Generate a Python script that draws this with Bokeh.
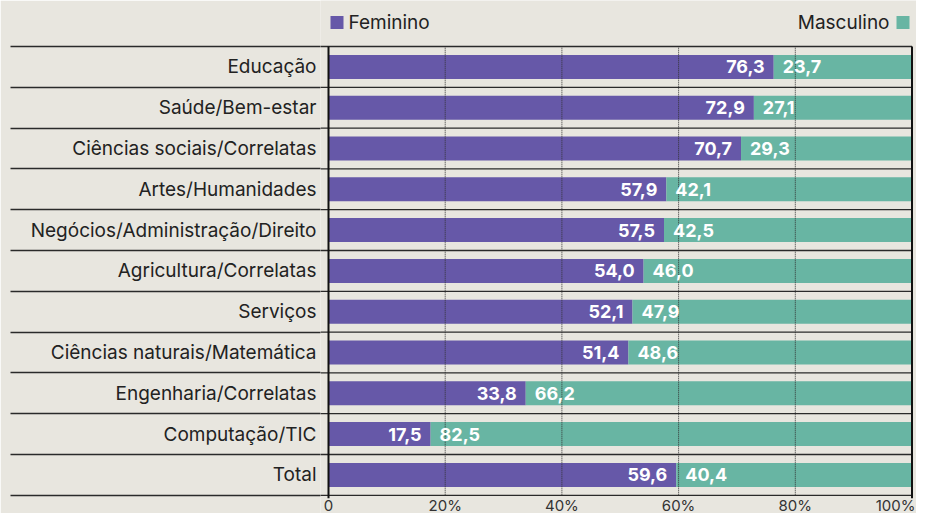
from bokeh.plotting import figure
from bokeh.models import ColumnDataSource, FixedTicker, Range1d
from bokeh.core.properties import value
from bokeh.embed import file_html
from bokeh.resources import INLINE

# ---------------- data ----------------
categories = [
    "Educação",
    "Saúde/Bem-estar",
    "Ciências sociais/Correlatas",
    "Artes/Humanidades",
    "Negócios/Administração/Direito",
    "Agricultura/Correlatas",
    "Serviços",
    "Ciências naturais/Matemática",
    "Engenharia/Correlatas",
    "Computação/TIC",
    "Total",
]
feminino = [76.3, 72.9, 70.7, 57.9, 57.5, 54.0, 52.1, 51.4, 33.8, 17.5, 59.6]
masculino = [23.7, 27.1, 29.3, 42.1, 42.5, 46.0, 47.9, 48.6, 66.2, 82.5, 40.4]
series_names = ["Feminino", "Masculino"]
x_ticks = [0, 20, 40, 60, 80, 100]
x_tick_labels = ["0", "20%", "40%", "60%", "80%", "100%"]

# ---------------- style / layout ----------------
PURPLE = "#6658a8"
TEAL = "#68b5a3"
BG = "#e8e6df"
INK = "#222222"
RULE = "#2a2a2a"
FONT = "Inter"

W, H = 916, 513
FRAME_LEFT = 320          # figure px where the frame starts
ZERO_PX = 328             # figure px of x = 0
PX_PER_UNIT = 583.5 / 100
ROW_PX = 40.8
TOP_RULE = 46             # figure px of the top rule
RULE_START = 10           # figure px where the row rules start on the left
LABEL_GAP = 12            # gap between category labels and the zero line

n = len(categories)
ys = [n - 1 - i for i in range(n)]
boundaries = [k - 0.5 for k in range(n + 1)]


def px_x(px):
    return px / PX_PER_UNIT


def px_y(px):
    return px / ROW_PX


y_top = (n - 0.5) + px_y(TOP_RULE)
y_bot = y_top - px_y(H)
x_start = -px_x(ZERO_PX - FRAME_LEFT)
x_end = px_x(W - ZERO_PX)


def y_at(fig_px):
    return y_top - px_y(fig_px)


p = figure(
    width=W, height=H,
    x_range=Range1d(x_start, x_end), y_range=Range1d(y_bot, y_top),
    output_backend="svg", toolbar_location=None,
    x_axis_location=None,
    min_border_left=FRAME_LEFT, min_border_right=0,
    min_border_top=0, min_border_bottom=0,
    background_fill_color=BG, border_fill_color=BG,
    outline_line_color=None,
)
p.xgrid.visible = False
p.ygrid.visible = False

fmt = lambda v: f"{v:.1f}".replace(".", ",")
src = ColumnDataSource(dict(
    y=ys, cat=categories, fem=feminino, masc=masculino,
    total=[f + m for f, m in zip(feminino, masculino)],
    fem_lbl=[fmt(v) for v in feminino],
    masc_lbl=[fmt(v) for v in masculino],
))

BAR_H = px_y(24)
p.hbar(y="y", left=0, right="fem", height=BAR_H, fill_color=PURPLE,
       line_color=None, source=src)
p.hbar(y="y", left="fem", right="total", height=BAR_H, fill_color=TEAL,
       line_color=None, source=src)

# dotted gridlines
grid_x = x_ticks[1:-1]
p.segment(x0=grid_x, x1=grid_x, y0=boundaries[0], y1=boundaries[-1],
          line_color="#333333", line_width=1, line_dash="1 1")

# row rules (inside the frame; the part under the labels is the axis minor ticks)
p.segment(x0=x_start, x1=x_ticks[-1], y0=boundaries, y1=boundaries,
          line_color=RULE, line_width=1.3)

# left / right edges (extended a little below as ticks)
edge_x = [x_ticks[0], x_ticks[-1]]
p.segment(x0=edge_x, x1=edge_x, y0=boundaries[0] - px_y(3), y1=boundaries[-1],
          line_color="#111111", line_width=2)

# value labels
p.text(x="fem", y="y", text="fem_lbl", x_offset=-9, text_align="right",
       text_baseline="middle", text_color="white", text_font=value(FONT),
       text_font_style="bold", text_font_size="18px", source=src)
p.text(x="fem", y="y", text="masc_lbl", x_offset=9, text_align="left",
       text_baseline="middle", text_color="white", text_font=value(FONT),
       text_font_style="bold", text_font_size="18px", source=src)

# legend (manual: Feminino on left, Masculino on right with square after text)
y_leg = boundaries[-1] + px_y(TOP_RULE - 22)
leg_src = ColumnDataSource(dict(
    x=[x_ticks[0] + px_x(8.5), x_ticks[-1] - px_x(9)],
    y=[y_leg, y_leg], color=[PURPLE, TEAL],
))
p.rect(x="x", y="y", width=13, height=13, width_units="screen",
       height_units="screen", fill_color="color", line_color=None, source=leg_src)
p.text(x=[x_ticks[0] + px_x(20)], y=[y_leg], text=[series_names[0]],
       text_align="left", text_baseline="middle", text_color=INK,
       text_font=value(FONT), text_font_size="19px")
p.text(x=[x_ticks[-1] - px_x(22.5)], y=[y_leg], text=[series_names[1]],
       text_align="right", text_baseline="middle", text_color=INK,
       text_font=value(FONT), text_font_size="19px")

# x tick labels
tick_src = ColumnDataSource(dict(
    x=[t if t < x_ticks[-1] else x_end - px_x(1) for t in x_ticks],
    y=[y_at(H - 8.5)] * len(x_ticks),
    text=x_tick_labels,
    align=["center" if t < x_ticks[-1] else "right" for t in x_ticks],
))
p.text(x="x", y="y", text="text", text_align="align",
       text_baseline="middle", text_color="#333333",
       text_font=value(FONT), text_font_size="15px", source=tick_src)

# y axis with category labels; minor ticks extend as row rules under labels
tick_out = FRAME_LEFT - RULE_START
label_right = ZERO_PX - LABEL_GAP
yaxis = p.yaxis[0]
yaxis.ticker = FixedTicker(ticks=ys, minor_ticks=boundaries)
yaxis.major_label_overrides = {y: c for y, c in zip(ys, categories)}
yaxis.major_label_text_font = FONT
yaxis.major_label_text_font_size = "19px"
yaxis.major_label_text_color = INK
yaxis.major_label_standoff = (FRAME_LEFT - label_right) - tick_out
yaxis.axis_line_color = None
yaxis.major_tick_in = 0
yaxis.major_tick_out = 0
yaxis.minor_tick_in = 0
yaxis.minor_tick_out = tick_out
yaxis.minor_tick_line_color = RULE
yaxis.minor_tick_line_width = 1.3

open("out.html", "w").write(file_html(p, INLINE))
